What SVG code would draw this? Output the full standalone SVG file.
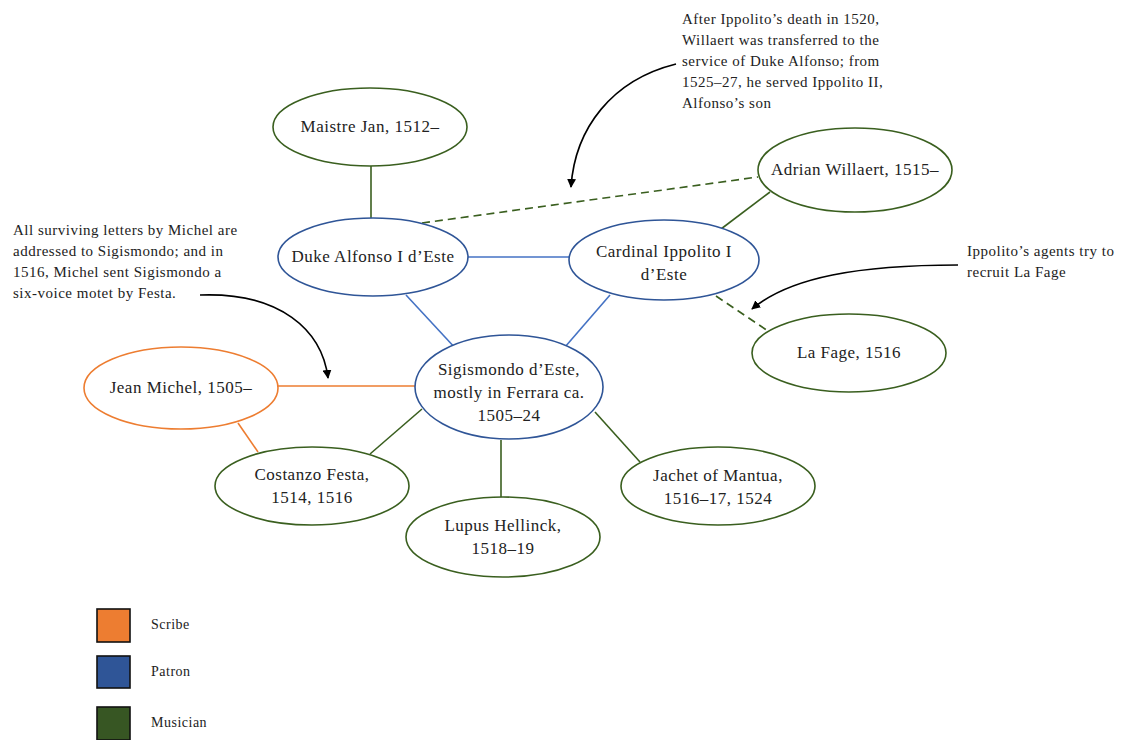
<svg xmlns="http://www.w3.org/2000/svg" width="1134" height="740" viewBox="0 0 1134 740">
<style>
text{font-family:"Liberation Serif","DejaVu Serif",serif;fill:#222;letter-spacing:0.5px}
.n{font-size:17px;text-anchor:middle}
.a{font-size:15px}
.l{font-size:14px}
.green{fill:#fff;stroke:#3A5F1F;stroke-width:1.6}
.blue{fill:#fff;stroke:#2F5597;stroke-width:1.6}
.orange{fill:#fff;stroke:#ED7D31;stroke-width:1.6}
.eg{stroke:#3A5F1F;stroke-width:1.6;fill:none}
.eb{stroke:#4472C4;stroke-width:1.6;fill:none}
.eo{stroke:#ED7D31;stroke-width:1.6;fill:none}
.dash{stroke-dasharray:8,5}
.arr{stroke:#000;stroke-width:1.6;fill:none;marker-end:url(#ah)}
</style>
<defs>
<marker id="ah" viewBox="0 0 10 10" refX="9" refY="5" markerWidth="9" markerHeight="9" markerUnits="userSpaceOnUse" orient="auto"><path d="M0,0 L10,5 L0,10 z" fill="#000"/></marker>
</defs>
<rect width="1134" height="740" fill="#fff"/>
<g id="connectors">
<line class="eg" x1="371" y1="166" x2="371" y2="218"/>
<line class="eb" x1="468" y1="257" x2="569" y2="257"/>
<line class="eb" x1="406" y1="295" x2="457" y2="350"/>
<line class="eb" x1="610" y1="295" x2="565" y2="347"/>
<line class="eg" x1="721" y1="229" x2="770" y2="192"/>
<line class="eg dash" x1="422" y1="223" x2="758" y2="177"/>
<line class="eg dash" x1="716" y1="296" x2="771" y2="333"/>
<line class="eo" x1="278" y1="386" x2="415" y2="386"/>
<line class="eo" x1="238" y1="423" x2="258" y2="452"/>
<line class="eg" x1="422" y1="409" x2="370" y2="454"/>
<line class="eg" x1="501" y1="440" x2="501" y2="498"/>
<line class="eg" x1="595" y1="412" x2="640" y2="462"/>
<path class="arr" d="M676,64 C612,80 575,128 571,187"/>
<path class="arr" d="M200,295 C280,292 322,330 328,378"/>
<path class="arr" d="M958,265 C860,265 790,277 752,309"/>
</g>
<g id="maistre-jan"><ellipse class="green" cx="370" cy="127" rx="97" ry="39"/><text class="n" x="370" y="132">Maistre Jan, 1512–</text></g>
<g id="adrian-willaert"><ellipse class="green" cx="855" cy="170" rx="97" ry="42"/><text class="n" x="855" y="175">Adrian Willaert, 1515–</text></g>
<g id="duke-alfonso"><ellipse class="blue" cx="373" cy="257" rx="95" ry="39"/><text class="n" x="373" y="262">Duke Alfonso I d’Este</text></g>
<g id="cardinal-ippolito"><ellipse class="blue" cx="664" cy="260" rx="95" ry="40"/><text class="n" x="664" y="257">Cardinal Ippolito I</text><text class="n" x="664" y="280">d’Este</text></g>
<g id="la-fage"><ellipse class="green" cx="849" cy="353" rx="97" ry="39"/><text class="n" x="849" y="358">La Fage, 1516</text></g>
<g id="sigismondo"><ellipse class="blue" cx="509" cy="387" rx="94" ry="52"/><text class="n" x="509" y="375">Sigismondo d’Este,</text><text class="n" x="509" y="398">mostly in Ferrara ca.</text><text class="n" x="509" y="421">1505–24</text></g>
<g id="jean-michel"><ellipse class="orange" cx="181" cy="388" rx="97" ry="41"/><text class="n" x="181" y="393">Jean Michel, 1505–</text></g>
<g id="costanzo-festa"><ellipse class="green" cx="312" cy="486" rx="97" ry="39"/><text class="n" x="312" y="480">Costanzo Festa,</text><text class="n" x="312" y="503">1514, 1516</text></g>
<g id="lupus-hellinck"><ellipse class="green" cx="503" cy="537" rx="97" ry="40"/><text class="n" x="503" y="531">Lupus Hellinck,</text><text class="n" x="503" y="554">1518–19</text></g>
<g id="jachet"><ellipse class="green" cx="718" cy="486" rx="97" ry="39"/><text class="n" x="718" y="481">Jachet of Mantua,</text><text class="n" x="718" y="504">1516–17, 1524</text></g>
<g id="note-willaert"><text class="a" x="682" y="24">After Ippolito’s death in 1520,</text><text class="a" x="682" y="45">Willaert was transferred to the</text><text class="a" x="682" y="66">service of Duke Alfonso; from</text><text class="a" x="682" y="87">1525–27, he served Ippolito II,</text><text class="a" x="682" y="108">Alfonso’s son</text></g>
<g id="note-michel"><text class="a" x="13" y="235">All surviving letters by Michel are</text><text class="a" x="13" y="256">addressed to Sigismondo; and in</text><text class="a" x="13" y="277">1516, Michel sent Sigismondo a</text><text class="a" x="13" y="298">six-voice motet by Festa.</text></g>
<g id="note-lafage"><text class="a" x="967" y="256">Ippolito’s agents try to</text><text class="a" x="967" y="277">recruit La Fage</text></g>
<g id="legend">
<rect x="97" y="609" width="33" height="33" fill="#ED7D31" stroke="#111" stroke-width="1.6"/><text class="l" x="151" y="629">Scribe</text>
<rect x="97" y="656" width="33" height="32" fill="#2F5597" stroke="#111" stroke-width="1.6"/><text class="l" x="151" y="676">Patron</text>
<rect x="97" y="707" width="33" height="33" fill="#375623" stroke="#111" stroke-width="1.6"/><text class="l" x="151" y="727">Musician</text>
</g>
</svg>
